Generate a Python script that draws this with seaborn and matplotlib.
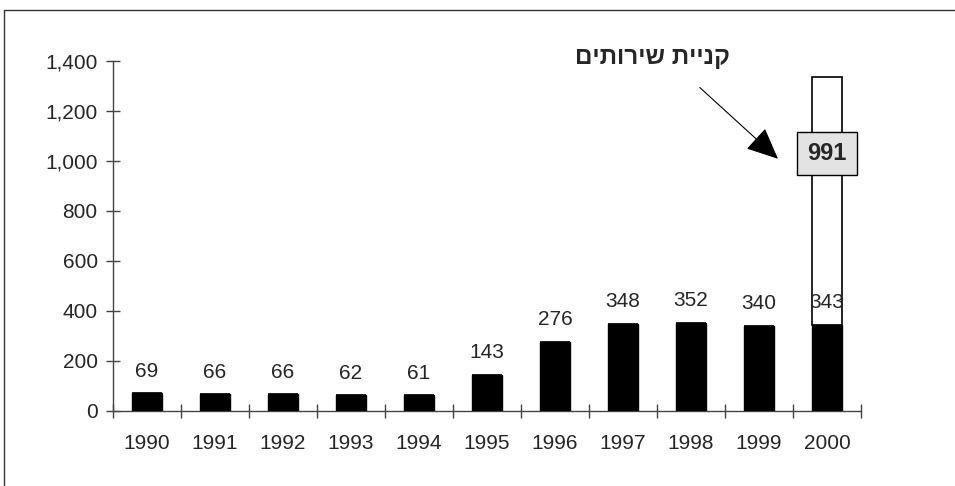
import matplotlib
matplotlib.use("Agg")
import matplotlib.pyplot as plt
import seaborn as sns
import pandas as pd
from matplotlib.lines import Line2D

# values
years = ["1990", "1991", "1992", "1993", "1994", "1995", "1996", "1997", "1998", "1999", "2000"]
base = [69, 66, 66, 62, 61, 143, 276, 348, 352, 340, 343]
purchase = [0, 0, 0, 0, 0, 0, 0, 0, 0, 0, 991]
purchase_label = "קניית שירותים"

df = pd.DataFrame({"year": years, "base": base, "purchase": purchase})

sns.set_style("white")
plt.rcParams["font.family"] = ["Liberation Sans", "DejaVu Sans"]

fig = plt.figure(figsize=(9.55, 4.86), dpi=100)
ax = fig.add_axes([0.1183, 0.155, 0.7832, 0.7202])

# white top segment (service purchase) stacked on the black base
ax.bar(range(len(years)), df["purchase"], bottom=df["base"], width=0.44,
       color="white", edgecolor="black", linewidth=1.2, zorder=2)
sns.barplot(data=df, x="year", y="base", color="black", width=0.44,
            saturation=1, edgecolor="black", ax=ax, zorder=3)

ax.set_xlim(-0.5, len(years) - 0.5)
ax.set_ylim(0, 1400)
ax.set_yticks(range(0, 1401, 200))
ax.set_yticklabels([f"{v:,}" for v in range(0, 1401, 200)])
ax.set_xlabel("")
ax.set_ylabel("")

# value labels above the black bars
for i, v in enumerate(base):
    ax.text(i, v + 50, str(v), ha="center", va="bottom", fontsize=15, zorder=5)

# label for the purchase segment
i_last = len(years) - 1
ax.text(i_last, 1028, str(purchase[-1]), ha="center", va="center", fontsize=17,
        fontweight="bold", zorder=6,
        bbox=dict(boxstyle="square,pad=0.42", facecolor="#e3e3e3", edgecolor="black", linewidth=1))

# annotation arrow with hebrew text (reversed for left-to-right rendering)
ax.annotate("", xy=(i_last - 0.69, 1000), xytext=(i_last - 1.9, 1300),
            arrowprops=dict(arrowstyle="-|>,head_length=2.0,head_width=0.9",
                            color="black", linewidth=0.8), zorder=6)
ax.text(i_last - 2.56, 1411, purchase_label[::-1], ha="center", va="center",
        fontsize=17.5, fontweight="bold")

# axes styling
for s in ["top", "right"]:
    ax.spines[s].set_visible(False)
for s in ["left", "bottom"]:
    ax.spines[s].set_color("#444444")
    ax.spines[s].set_linewidth(1)
ax.tick_params(axis="y", direction="inout", length=10, width=1, color="#444444",
               labelsize=15, pad=6, left=True)
ax.tick_params(axis="x", which="major", length=0, labelsize=15, pad=17)
ax.set_xticks([i - 0.5 for i in range(len(years) + 1)], minor=True)
ax.tick_params(axis="x", which="minor", direction="inout", length=10, width=1,
               color="#444444", bottom=True)

# outer frame (left and top edges visible)
fig.add_artist(Line2D([0.0042, 0.0042], [0, 0.9794], color="#333333", linewidth=1))
fig.add_artist(Line2D([0.0042, 1], [0.9794, 0.9794], color="#333333", linewidth=1))

fig.savefig("out.png", dpi=100)
